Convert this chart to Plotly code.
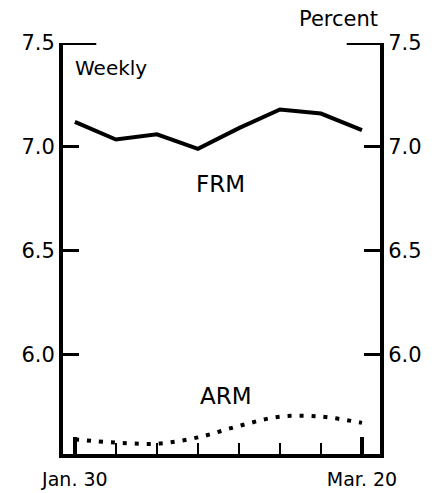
import plotly.graph_objects as go

# weekly observations, Jan. 30 .. Mar. 20
weeks = ["Jan. 30", "Feb. 6", "Feb. 13", "Feb. 20", "Feb. 27", "Mar. 6", "Mar. 13", "Mar. 20"]
frm = [7.12, 7.035, 7.06, 6.99, 7.09, 7.18, 7.16, 7.08]
arm = [5.59, 5.575, 5.57, 5.60, 5.655, 5.70, 5.70, 5.67]

y_ticks = [6.0, 6.5, 7.0, 7.5]
y_ticktext = ["6.0", "6.5", "7.0", "7.5"]
end_labels = ["Jan. 30", "Mar. 20"]

YR = [5.52, 7.5]
XR = [-0.29, 7.44]
FONT = "DejaVu Sans, Arial, sans-serif"

fig = go.Figure()

fig.add_trace(go.Scatter(
    x=weeks, y=frm, mode="lines",
    line=dict(color="black", width=4),
    xaxis="x", yaxis="y", showlegend=False, hoverinfo="skip"
))
fig.add_trace(go.Scatter(
    x=weeks, y=arm, mode="lines",
    line=dict(color="black", width=4, dash="4px,8px", shape="spline"),
    xaxis="x2", yaxis="y2", showlegend=False, hoverinfo="skip"
))

# long stubs at 7.5 on both sides
fig.add_shape(type="line", xref="x domain", yref="y", x0=0, x1=0.105,
              y0=7.5, y1=7.5, line=dict(color="black", width=4))
fig.add_shape(type="line", xref="x domain", yref="y", x0=0.895, x1=1,
              y0=7.5, y1=7.5, line=dict(color="black", width=4))

fig.add_annotation(text="Percent", xref="paper", yref="paper", x=1.0, y=1.0,
                   xanchor="right", yanchor="bottom", yshift=10, showarrow=False,
                   font=dict(size=21))
fig.add_annotation(text="Weekly", xref="x domain", yref="y", x=0.03, y=7.5,
                   xanchor="left", yanchor="middle", yshift=-25, showarrow=False,
                   font=dict(size=20))
fig.add_annotation(text="FRM", xref="x", yref="y", x=3.55, y=6.82,
                   xanchor="center", showarrow=False, font=dict(size=23))
fig.add_annotation(text="ARM", xref="x", yref="y", x=3.68, y=5.8,
                   xanchor="center", showarrow=False, font=dict(size=23))

yax = dict(range=YR, tickvals=y_ticks, ticktext=y_ticktext, ticks="inside",
           ticklen=16, tickwidth=3, tickcolor="black", showline=True,
           linecolor="black", linewidth=4, showgrid=False, zeroline=False,
           tickfont=dict(size=21), automargin=False)

fig.update_layout(
    width=445, height=493,
    margin=dict(l=63, r=65, t=43, b=39),
    paper_bgcolor="white", plot_bgcolor="white",
    font=dict(family=FONT, color="black"),
    xaxis=dict(type="category", categoryarray=weeks, range=XR,
               tickvals=weeks, ticks="inside", ticklen=11, tickwidth=2,
               tickcolor="black", showticklabels=False, showline=True,
               linecolor="black", linewidth=4, showgrid=False, zeroline=False,
               automargin=False),
    xaxis2=dict(type="category", categoryarray=weeks, range=XR,
                overlaying="x", side="bottom", anchor="y2",
                tickvals=end_labels, ticktext=end_labels, ticks="inside",
                ticklen=17, tickwidth=4, tickcolor="black", showline=False,
                showgrid=False, zeroline=False, tickfont=dict(size=19),
                ticklabelstandoff=12, automargin=False),
    yaxis=dict(side="left", **yax),
    yaxis2=dict(side="right", overlaying="y", anchor="x2", **yax),
)

# page body has a default margin; drop it so the figure fills the window
fig.write_html("out.html", config={"displayModeBar": False},
               post_script="document.body.style.margin='0px';")
